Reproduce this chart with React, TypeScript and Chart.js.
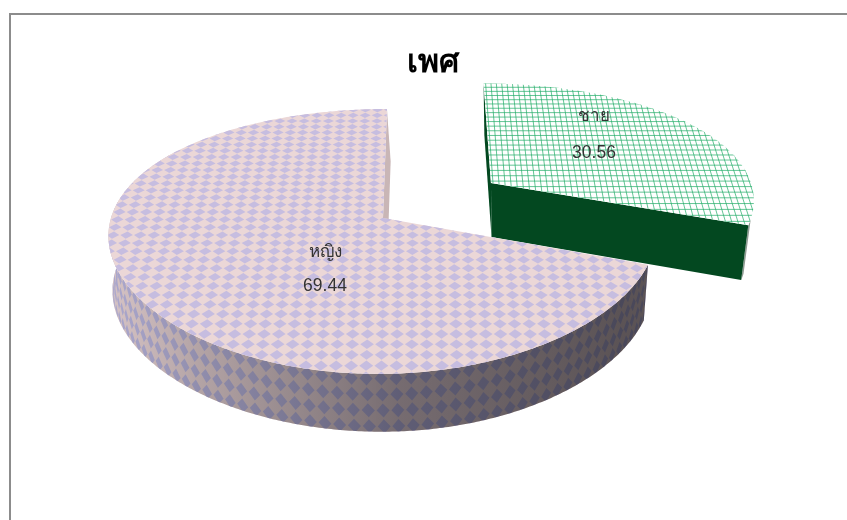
import React, { useEffect, useRef } from "react";
import { Chart, registerables } from "chart.js";

Chart.register(...registerables);

const TITLE = "เพศ";
const categories = ["ชาย", "หญิง"];
const percentages = [30.56, 69.44];

// Perspective camera for the tilted pie plane.
const VIEW = {
  originX: 420,
  originY: 218,
  planeScale: 128.3,
  perspectiveX: 0.12,
  perspectiveY: 0.177,
  wallVanishX: 510,
  wallLean: 0.03,
  wallLeanMax: 4,
};
// Where each exploded slice's apex sits on the plane, and its radius.
const SLICE_PLACE = [
  { x: 73.4, v: -0.287, radius: 269 },
  { x: -37, v: 0, radius: 272 },
];
const LABEL_POS = [
  { x: 594, name: 116, value: 153 },
  { x: 325, name: 252, value: 286 },
];

type P = { x: number; y: number };

const project = (X: number, V: number): P => ({
  x: VIEW.originX + X / (1 - VIEW.perspectiveX * V),
  y: VIEW.originY + (VIEW.planeScale * V) / (1 - VIEW.perspectiveY * V),
});

// Same point at the bottom of the pie's thickness.
const drop = (p: P, t = 1): P => ({
  x: p.x + Math.min(VIEW.wallLeanMax, (VIEW.wallVanishX - p.x) * VIEW.wallLean) * t,
  y: p.y + (54 + (p.y - 183) * 0.02) * t,
});

const rimPoint = (i: number, a: number): P =>
  project(
    SLICE_PLACE[i].x + SLICE_PLACE[i].radius * Math.cos(a),
    SLICE_PLACE[i].v + Math.sin(a)
  );

const apexPoint = (i: number): P => project(SLICE_PLACE[i].x, SLICE_PLACE[i].v);

function rim(i: number, a0: number, a1: number): P[] {
  const n = Math.max(4, Math.ceil(Math.abs(a1 - a0) / 0.01));
  const pts: P[] = [];
  for (let k = 0; k <= n; k++) pts.push(rimPoint(i, a0 + ((a1 - a0) * k) / n));
  return pts;
}

function polygon(ctx: CanvasRenderingContext2D, pts: P[]) {
  ctx.beginPath();
  pts.forEach((p, k) => (k ? ctx.lineTo(p.x, p.y) : ctx.moveTo(p.x, p.y)));
  ctx.closePath();
}

function greenTop(ctx: CanvasRenderingContext2D, i: number, a0: number, a1: number) {
  const o = SLICE_PLACE[i];
  ctx.save();
  polygon(ctx, [apexPoint(i), ...rim(i, a0, a1)]);
  ctx.fillStyle = "#ffffff";
  ctx.fill();
  ctx.clip();
  ctx.lineWidth = 1;
  ctx.strokeStyle = "rgba(34,172,104,0.7)";
  ctx.beginPath();
  for (let X = o.x - 10; X < o.x + o.radius + 20; X += 6.2) {
    const a = project(X, o.v - 1.1);
    const b = project(X, o.v + 0.6);
    ctx.moveTo(a.x, a.y);
    ctx.lineTo(b.x, b.y);
  }
  for (let V = o.v - 1.05; V < o.v + 0.6; V += 0.047) {
    const a = project(o.x - 10, V);
    const b = project(o.x + o.radius + 20, V);
    ctx.moveTo(a.x, a.y);
    ctx.lineTo(b.x, b.y);
  }
  ctx.stroke();
  ctx.restore();
}

function pinkTop(ctx: CanvasRenderingContext2D, i: number, a0: number, a1: number) {
  const o = SLICE_PLACE[i];
  const pitch = 13.4;
  const row = 0.059;
  ctx.save();
  polygon(ctx, [apexPoint(i), ...rim(i, a0, a1)]);
  ctx.fillStyle = "#ebd7d7";
  ctx.fill();
  ctx.clip();
  ctx.fillStyle = "#c6bde0";
  for (let V = o.v - 1.05; V < o.v + 1.05; V += row) {
    for (let X = o.x - o.radius - 20; X < o.x + o.radius + 20; X += pitch) {
      polygon(ctx, [
        project(X - pitch * 0.46, V),
        project(X, V - row * 0.46),
        project(X + pitch * 0.46, V),
        project(X, V + row * 0.46),
      ]);
      ctx.fill();
    }
  }
  ctx.restore();
}

function pinkWall(ctx: CanvasRenderingContext2D, i: number, a0: number, a1: number) {
  const top = rim(i, a0, a1);
  const outline = [...top, ...top.slice().reverse().map((p) => drop(p))];
  ctx.save();
  polygon(ctx, outline);
  ctx.fillStyle = "#e4d0d2";
  ctx.fill();
  ctx.clip();
  const stepA = 0.0485;
  const stepT = 0.276;
  ctx.fillStyle = "#b8b4dc";
  for (let t = 0.08; t <= 1.2; t += stepT) {
    for (let a = a0; a < a1; a += stepA) {
      polygon(ctx, [
        drop(rimPoint(i, a - stepA * 0.44), t),
        drop(rimPoint(i, a), t - stepT * 0.44),
        drop(rimPoint(i, a + stepA * 0.44), t),
        drop(rimPoint(i, a), t + stepT * 0.44),
      ]);
      ctx.fill();
    }
  }
  // Light falls from the left, so the wall darkens towards the right.
  const shade = ctx.createLinearGradient(108, 0, 650, 0);
  shade.addColorStop(0, "#f0f0f0");
  shade.addColorStop(0.17, "#c8c8c8");
  shade.addColorStop(0.54, "#848488");
  shade.addColorStop(0.945, "#666668");
  ctx.globalCompositeOperation = "multiply";
  ctx.fillStyle = shade;
  ctx.fillRect(90, 200, 580, 250);
  ctx.restore();
}

const pie3d = {
  id: "pie3d",
  beforeDraw(chart: Chart) {
    const { ctx, width, height } = chart;
    ctx.save();
    ctx.fillStyle = "#ffffff";
    ctx.fillRect(0, 0, width, height);
    ctx.strokeStyle = "#8c8c8c";
    ctx.lineWidth = 2;
    ctx.beginPath();
    ctx.moveTo(10, height);
    ctx.lineTo(10, 14);
    ctx.lineTo(width, 14);
    ctx.stroke();
    ctx.restore();
  },
  beforeDatasetDraw(chart: Chart) {
    const ctx = chart.ctx;
    const arcs = chart.getDatasetMeta(0).data as any[];
    const [m, f] = arcs;

    // Male slice: cut faces first, then the hatched top.
    const mApex = apexPoint(0);
    const mStart = rimPoint(0, m.startAngle);
    const mEnd = rimPoint(0, m.endAngle);
    ctx.fillStyle = "#8f9a92";
    const mRim = rim(0, m.endAngle - 0.05, m.endAngle);
    polygon(ctx, [...mRim, ...mRim.slice().reverse().map((p) => drop(p))]);
    ctx.fill();
    ctx.fillStyle = "#034820";
    polygon(ctx, [mApex, mStart, drop(mStart), drop(mApex)]);
    ctx.fill();
    polygon(ctx, [mApex, mEnd, drop(mEnd), drop(mApex)]);
    ctx.fill();
    greenTop(ctx, 0, m.startAngle, m.endAngle);

    // Female slice: rear cut face, the visible part of the curved wall, then the checked top.
    const fApex = apexPoint(1);
    const fEnd = rimPoint(1, f.endAngle);
    ctx.fillStyle = "#c9b6b6";
    polygon(ctx, [fApex, fEnd, drop(fEnd), drop(fApex)]);
    ctx.fill();
    pinkWall(ctx, 1, f.startAngle, Math.min(f.endAngle, (215 * Math.PI) / 180));
    pinkTop(ctx, 1, f.startAngle, f.endAngle);

    // Category and value labels.
    ctx.save();
    ctx.textAlign = "center";
    ctx.textBaseline = "middle";
    ctx.fillStyle = "#333333";
    arcs.forEach((_, i) => {
      ctx.font = '17px "Liberation Sans", "Noto Sans", sans-serif';
      ctx.fillText(categories[i], LABEL_POS[i].x, LABEL_POS[i].name);
      ctx.font = '17.5px "Liberation Sans", Arial, sans-serif';
      ctx.fillText(percentages[i].toFixed(2), LABEL_POS[i].x, LABEL_POS[i].value);
    });
    ctx.restore();
    return false;
  },
};

export default function App() {
  const ref = useRef<HTMLCanvasElement>(null);
  useEffect(() => {
    document.body.style.margin = "0";
    const chart = new Chart(ref.current!, {
      type: "pie",
      data: {
        labels: categories,
        datasets: [{ data: percentages, backgroundColor: ["#034820", "#e9d6d6"], borderWidth: 0 }],
      },
      options: {
        responsive: false,
        animation: false,
        layout: { padding: { left: 19 } },
        plugins: {
          legend: { display: false },
          tooltip: { enabled: false },
          title: {
            display: true,
            text: TITLE,
            color: "#000000",
            font: { size: 32, weight: "bold", family: '"Liberation Sans", "Noto Sans", sans-serif' },
            padding: { top: 44, bottom: 10 },
          },
        },
      },
      plugins: [pie3d as any],
    });
    return () => chart.destroy();
  }, []);
  return (
    <canvas
      ref={ref}
      width={847}
      height={520}
      style={{ position: "fixed", left: 0, top: 0, display: "block" }}
    />
  );
}
